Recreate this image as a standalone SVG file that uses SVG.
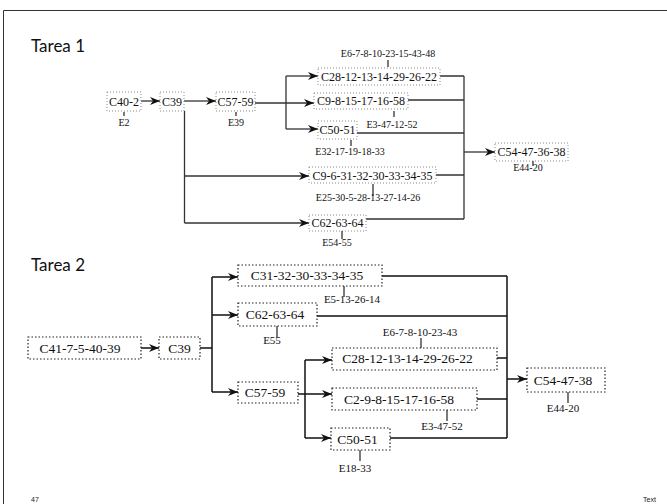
<svg xmlns="http://www.w3.org/2000/svg" width="667" height="504" viewBox="0 0 667 504">
<style>
.t1b{fill:none;stroke:#8a8a8a;stroke-width:1;stroke-dasharray:1,2}
.t2b{fill:none;stroke:#222;stroke-width:1.2;stroke-dasharray:1.5,2}
.t1{font-size:12px;fill:#111;text-anchor:middle}
.t2{font-size:13.5px;fill:#111;text-anchor:middle}
.l1{font-size:10px;fill:#111;text-anchor:middle}
.l2{font-size:11px;fill:#111;text-anchor:middle}
.tk{stroke:#222;stroke-width:1.2}
.c1{fill:none;stroke:#333;stroke-width:1.3}
.c2{fill:none;stroke:#111;stroke-width:1.5}
.title{font-size:17px;fill:#111}
.foot{font-size:7px;fill:#222}
</style>
<defs>
<marker id="ah" viewBox="0 0 10 8" refX="10" refY="4" markerWidth="10" markerHeight="8" markerUnits="userSpaceOnUse" orient="auto"><path d="M0,0 L10,4 L0,8 L3,4 z" fill="#111"/></marker>
</defs>
<rect width="667" height="504" fill="#fff"/>
<path d="M3.5,504 V10.5 H667" fill="none" stroke="#333" stroke-width="1"/>
<g font-family="Lato, 'Open Sans', sans-serif">
<text class="title" x="31" y="52">Tarea 1</text>
<text class="title" x="31" y="271">Tarea 2</text>
</g>

<g id="connectors">
<g class="c1">
<line x1="141" y1="101" x2="160" y2="101" marker-end="url(#ah)"/>
<line x1="184" y1="101" x2="216" y2="101" marker-end="url(#ah)"/>
<line x1="255" y1="103" x2="314" y2="103" marker-end="url(#ah)"/>
<path d="M286,76 V129"/>
<line x1="286" y1="76" x2="318" y2="76" marker-end="url(#ah)"/>
<line x1="286" y1="129" x2="318" y2="129" marker-end="url(#ah)"/>
<path d="M184.5,111 V223"/>
<line x1="184.5" y1="176" x2="309" y2="176" marker-end="url(#ah)"/>
<line x1="184.5" y1="223" x2="309" y2="223" marker-end="url(#ah)"/>
<path d="M440,76 H464 M408,100 H464 M357,133 H464 M436,175 H464 M366,219 H464 M464,76 V219"/>
<line x1="464" y1="152" x2="495" y2="152" marker-end="url(#ah)"/>
</g>
<g class="c2">
<line x1="141" y1="348" x2="159" y2="348" marker-end="url(#ah)"/>
<path d="M200,348 H212 M212,277 V392"/>
<line x1="212" y1="277" x2="238" y2="277" marker-end="url(#ah)"/>
<line x1="212" y1="315" x2="238" y2="315" marker-end="url(#ah)"/>
<line x1="212" y1="392" x2="238" y2="392" marker-end="url(#ah)"/>
<line x1="298" y1="394" x2="332" y2="394" marker-end="url(#ah)"/>
<path d="M305,360 V438"/>
<line x1="305" y1="360" x2="332" y2="360" marker-end="url(#ah)"/>
<line x1="305" y1="438" x2="331" y2="438" marker-end="url(#ah)"/>
<path d="M382,276 H507 M317,316 H507 M497,358 H507 M477,399 H507 M390,438 H507 M507,276 V438"/>
<line x1="507" y1="379" x2="527" y2="379" marker-end="url(#ah)"/>
</g>
</g>

<g font-family="'Liberation Serif', 'DejaVu Serif', serif">
<g id="t1-C40-2"><rect class="t1b" x="107" y="92" width="34" height="19"/><text class="t1" x="124" y="106">C40-2</text><line class="tk" x1="124" y1="112" x2="124" y2="116"/><text class="l1" x="124" y="126">E2</text></g>
<g id="t1-C39"><rect class="t1b" x="160" y="92" width="24" height="19"/><text class="t1" x="172" y="106">C39</text></g>
<g id="t1-C57-59"><rect class="t1b" x="216" y="92" width="39" height="19"/><text class="t1" x="235.5" y="106">C57-59</text><line class="tk" x1="236" y1="112" x2="236" y2="116"/><text class="l1" x="236" y="126">E39</text></g>
<g id="t1-C28"><rect class="t1b" x="318" y="68" width="122" height="17"/><text class="t1" x="379" y="81">C28-12-13-14-29-26-22</text><line class="tk" x1="388" y1="60" x2="388" y2="67"/><text class="l1" x="388" y="57">E6-7-8-10-23-15-43-48</text></g>
<g id="t1-C9-8"><rect class="t1b" x="314" y="93" width="94" height="16"/><text class="t1" x="361" y="105">C9-8-15-17-16-58</text><line class="tk" x1="394" y1="111" x2="394" y2="117"/><text class="l1" x="392" y="128">E3-47-12-52</text></g>
<g id="t1-C50-51"><rect class="t1b" x="318" y="121" width="39" height="18"/><text class="t1" x="337.5" y="134">C50-51</text><line class="tk" x1="351" y1="140" x2="351" y2="146"/><text class="l1" x="350" y="155">E32-17-19-18-33</text></g>
<g id="t1-C9-6"><rect class="t1b" x="309" y="167" width="127" height="16"/><text class="t1" x="372.5" y="180">C9-6-31-32-30-33-34-35</text><line class="tk" x1="373" y1="184" x2="373" y2="196"/><text class="l1" x="368" y="201">E25-30-5-28-13-27-14-26</text></g>
<g id="t1-C62-63-64"><rect class="t1b" x="309" y="215" width="57" height="16"/><text class="t1" x="337.5" y="227">C62-63-64</text><line class="tk" x1="342" y1="231" x2="342" y2="239"/><text class="l1" x="337" y="246">E54-55</text></g>
<g id="t1-C54"><rect class="t1b" x="495" y="143" width="73" height="18"/><text class="t1" x="531.5" y="156">C54-47-36-38</text><line class="tk" x1="533" y1="161" x2="533" y2="166"/><text class="l1" x="528" y="171">E44-20</text></g>

<g id="t2-C41"><rect class="t2b" x="28" y="337" width="113" height="22"/><text class="t2" x="80" y="353">C41-7-5-40-39</text></g>
<g id="t2-C39"><rect class="t2b" x="159" y="337" width="41" height="22"/><text class="t2" x="179.5" y="353">C39</text></g>
<g id="t2-C31"><rect class="t2b" x="238" y="265" width="144" height="21"/><text class="t2" x="307" y="280">C31-32-30-33-34-35</text><line class="tk" x1="344" y1="286" x2="344" y2="297"/><text class="l2" x="352" y="303">E5-13-26-14</text></g>
<g id="t2-C62"><rect class="t2b" x="238" y="303" width="79" height="23"/><text class="t2" x="275" y="319">C62-63-64</text><line class="tk" x1="277" y1="326" x2="277" y2="337"/><text class="l2" x="272" y="344">E55</text></g>
<g id="t2-C57-59"><rect class="t2b" x="238" y="382" width="60" height="21"/><text class="t2" x="265" y="397">C57-59</text></g>
<g id="t2-C28"><rect class="t2b" x="332" y="348" width="165" height="22"/><text class="t2" x="407.5" y="363">C28-12-13-14-29-26-22</text><line class="tk" x1="421" y1="338" x2="421" y2="348"/><text class="l2" x="420" y="336">E6-7-8-10-23-43</text></g>
<g id="t2-C2"><rect class="t2b" x="332" y="388" width="145" height="22"/><text class="t2" x="399" y="404">C2-9-8-15-17-16-58</text><line class="tk" x1="447" y1="410" x2="447" y2="421"/><text class="l2" x="442" y="430">E3-47-52</text></g>
<g id="t2-C50"><rect class="t2b" x="331" y="428" width="59" height="22"/><text class="t2" x="357.5" y="444">C50-51</text><line class="tk" x1="360" y1="450" x2="360" y2="461"/><text class="l2" x="355" y="472">E18-33</text></g>
<g id="t2-C54"><rect class="t2b" x="527" y="368" width="78" height="24"/><text class="t2" x="563" y="385">C54-47-38</text><line class="tk" x1="568" y1="392" x2="568" y2="403"/><text class="l2" x="563" y="412">E44-20</text></g>
</g>

<g font-family="'Liberation Sans', sans-serif">
<text class="foot" x="31" y="502">47</text>
<text class="foot" x="643" y="502">Text</text>
</g>
</svg>
